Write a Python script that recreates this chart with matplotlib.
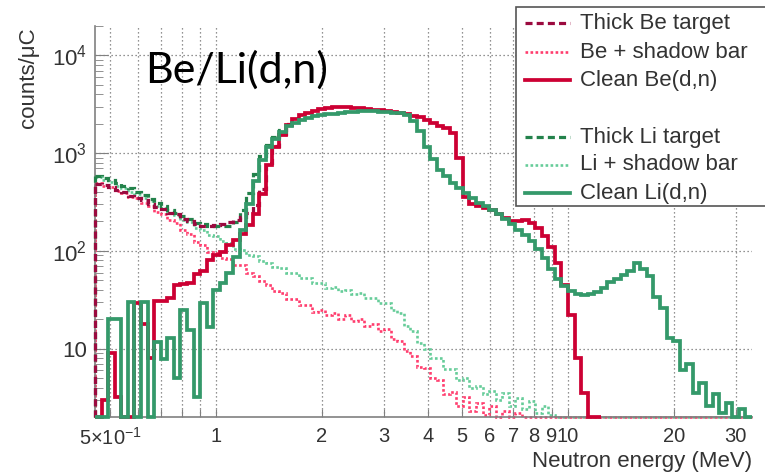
import numpy as np
import matplotlib
matplotlib.use('Agg')
import matplotlib.pyplot as plt
from matplotlib.lines import Line2D
from matplotlib.patches import Rectangle
from matplotlib.ticker import FixedLocator, LogLocator, NullFormatter

plt.rcParams['font.family'] = ['Liberation Sans', 'DejaVu Sans']
plt.rcParams['mathtext.fontset'] = 'custom'
plt.rcParams['mathtext.rm'] = 'Liberation Sans'
plt.rcParams['mathtext.it'] = 'Liberation Sans:italic'

# histogram binning: 100 log bins between 0.453 and 33.4 MeV
e_min, e_max = 0.453, 33.4
edges = np.geomspace(e_min, e_max, 101)
y_min, y_max = 2.0, 2.0e4

# counts/uC per bin
be_clean = [0, 3, 9, 3.2, 0, 0, 29, 18, 8, 31,
            31, 33, 45, 46, 47, 58, 62, 80, 90, 97,
            115, 128, 150, 185, 240, 380, 750, 1150, 1550, 1950,
            2250, 2450, 2600, 2700, 2800, 2880, 2980, 3000, 2950, 2920,
            2880, 2830, 2790, 2750, 2700, 2650, 2580, 2500, 2420, 2330,
            2180, 2020, 1900, 1800, 1600, 900, 360, 300, 285, 272,
            260, 240, 215, 200, 200, 205, 195, 170, 142, 110,
            75, 45, 22, 8, 3.5, 0, 0]

li_clean = [0, 0, 20, 20, 0, 30, 0, 30, 0, 11.6,
            7.8, 13, 5, 25, 15.6, 3.2, 29.6, 16.7, 40, 47,
            60, 87, 163, 300, 520, 850, 1150, 1400, 1650, 1880,
            2050, 2180, 2300, 2380, 2450, 2500, 2540, 2580, 2610, 2650,
            2690, 2720, 2690, 2660, 2630, 2600, 2550, 2450, 2150, 1700,
            1150, 880, 680, 580, 490, 440, 390, 345, 312, 288,
            262, 238, 212, 188, 165, 145, 125, 105, 85, 65,
            52, 44, 39, 36, 35, 36, 38, 42, 48, 52,
            57, 62, 75, 66, 55, 34, 26, 13, 12, 6,
            7, 3.5, 4.5, 2.6, 3.4, 2.2, 2.8, 2, 2.4, 2]

be_shadow = [490, 465, 450, 415, 395, 355, 345, 310, 285, 250,
             238, 205, 192, 162, 148, 124, 114, 98, 96, 84,
             82, 72, 71, 60, 56, 49, 45, 39, 37, 32,
             32, 28, 28, 24, 25, 22, 23, 20, 22, 19,
             20, 17, 18, 15, 16, 12.5, 12, 9.5, 8.5, 6.5,
             6.3, 5, 4.8, 3.4, 3.6, 2.6, 3.2, 2.3, 2.8, 2.1,
             2.6, 0, 2.3, 0, 2.2, 0, 0, 0, 0, 0,
             0, 0, 0, 0, 0, 0, 0, 0, 0, 0,
             0, 0, 0, 0, 0, 0, 0, 0, 0, 0,
             0, 0, 0, 0, 0, 0, 0, 0, 0, 0]

li_shadow = [570, 535, 505, 465, 445, 405, 385, 345, 325, 290,
             275, 245, 233, 205, 198, 172, 163, 146, 142, 125,
             120, 105, 102, 91, 88, 78, 76, 68, 67, 60,
             59, 53, 53, 47, 47, 42, 43, 39, 40, 36,
             37, 33, 33, 29, 29, 25, 23, 17, 15, 11.5,
             10, 8, 8, 6.2, 6.2, 4.8, 5, 4, 4.2, 3.4,
             3.7, 3, 3.5, 2.6, 3.1, 2.4, 2.9, 2.2, 2.6, 2.1,
             0, 0, 0, 0, 0, 0, 0, 0, 0, 0,
             0, 0, 0, 0, 0, 0, 0, 0, 0, 0,
             0, 0, 0, 0, 0, 0, 0, 0, 0, 0]

# thick-target spectra, first 30 bins (above that they sit under the clean curves)
be_thick = [480, 468, 452, 422, 398, 368, 352, 328, 302, 284,
            266, 246, 236, 214, 200, 188, 182, 178, 186, 188,
            198, 206, 220, 246, 296, 430, 795, 1190, 1585, 1985]
li_thick = [585, 558, 528, 498, 462, 436, 402, 376, 342, 308,
            286, 262, 242, 228, 212, 192, 188, 178, 182, 178,
            182, 196, 262, 392, 608, 928, 1226, 1468, 1716, 1942]

c_be_thick = '#9b0a3f'
c_be_shadow = '#ff3d6e'
c_be_clean = '#cc0033'
c_li_thick = '#23824b'
c_li_shadow = '#66cc99'
c_li_clean = '#34996a'

style_thick = dict(lw=2.3, linestyle=(0, (2.2, 1.3)))
style_shadow = dict(lw=1.9, linestyle=(0, (1, 0.9)))
style_clean = dict(lw=2.7, linestyle='-')

fig = plt.figure(figsize=(7.65, 4.76), dpi=100)
ax = fig.add_axes([95 / 765, 59 / 476, 657 / 765, 391 / 476])


def draw_hist(vals, color, style, z):
    vals = np.clip(np.array(vals, dtype=float), y_min, None)
    e = edges[:len(vals) + 1]
    ax.stairs(vals, e, baseline=None, color=color, zorder=z, clip_on=False, **style)
    ax.plot([e[0], e[0]], [y_min, vals[0]], color=color, zorder=z, clip_on=False, **style)


draw_hist(li_shadow, c_li_shadow, style_shadow, 2.0)
draw_hist(be_shadow, c_be_shadow, style_shadow, 2.1)
draw_hist(li_thick, c_li_thick, style_thick, 3.0)
draw_hist(be_thick, c_be_thick, style_thick, 3.1)
draw_hist(be_clean, c_be_clean, style_clean, 4.0)
draw_hist(li_clean, c_li_clean, style_clean, 4.1)

ax.set_xscale('log')
ax.set_yscale('log')
ax.set_xlim(e_min, e_max)
ax.set_ylim(y_min, y_max)

x_ticks = [0.5, 0.6, 0.7, 0.8, 0.9, 1, 2, 3, 4, 5, 6, 7, 8, 9, 10, 20, 30]
x_labels = [r'$5{\times}10^{-1}$', '', '', '', '', '1', '2', '3', '4', '5', '6',
            '7', '8', '9', '10', '20', '30']
ax.xaxis.set_major_locator(FixedLocator(x_ticks))
ax.set_xticklabels(x_labels)
ax.xaxis.set_minor_formatter(NullFormatter())
ax.xaxis.set_minor_locator(FixedLocator([]))

y_ticks = [10, 100, 1000, 10000]
ax.yaxis.set_major_locator(FixedLocator(y_ticks))
ax.set_yticklabels(['10', r'$10^{2}$', r'$10^{3}$', r'$10^{4}$'])
ax.yaxis.set_minor_locator(LogLocator(base=10, subs=np.arange(2, 10)))
ax.yaxis.set_minor_formatter(NullFormatter())

ax.tick_params(axis='both', which='both', direction='in', colors='#808080',
               labelcolor='#333333', labelsize=16)
ax.tick_params(axis='x', which='major', length=6, pad=7, labelsize=14.5)
ax.tick_params(axis='y', which='major', length=9, pad=6)
ax.tick_params(axis='y', which='minor', length=5.5)

for side in ['top', 'right']:
    ax.spines[side].set_visible(False)
for side in ['left', 'bottom']:
    ax.spines[side].set_color('#808080')
    ax.spines[side].set_linewidth(1.2)

ax.grid(True, which='major', color='#707070', lw=0.9, linestyle=(0, (1, 2.2)), zorder=0.5)
ax.set_axisbelow(True)

ax.set_xlabel('Neutron energy (MeV)', loc='right', fontsize=16, color='#333333', labelpad=2)
fig.text(28 / 765, 1 - 27 / 476, 'counts/\u03bcC', rotation=90, ha='center', va='top',
         fontsize=16, color='#333333')

ax.text(50 / 657, (417 - 83) / 391, 'Be/Li(d,n)', transform=ax.transAxes,
        family=['Lato', 'DejaVu Sans'], fontsize=31, color='black', va='baseline')


# legend box, partly running past the right edge
def fx(px):
    return px / 765


def fy(py):
    return 1 - py / 476


fig.add_artist(Rectangle((fx(516), fy(206)), fx(300), 199 / 476, transform=fig.transFigure,
                         facecolor='white', edgecolor='#555555', lw=1.2, zorder=10))
legend_rows = [
    ('Thick Be target', c_be_thick, style_thick, 23),
    ('Be + shadow bar', c_be_shadow, style_shadow, 52),
    ('Clean Be(d,n)', c_be_clean, style_clean, 80),
    ('Thick Li target', c_li_thick, style_thick, 137),
    ('Li + shadow bar', c_li_shadow, style_shadow, 165),
    ('Clean Li(d,n)', c_li_clean, style_clean, 193),
]
for label, color, style, py in legend_rows:
    fig.add_artist(Line2D([fx(525), fx(570)], [fy(py), fy(py)], transform=fig.transFigure,
                          color=color, zorder=11, **style))
    fig.text(fx(580), fy(py), label, ha='left', va='center', fontsize=16,
             color='#333333', zorder=11)

fig.savefig('out.png', dpi=100, facecolor='white')
